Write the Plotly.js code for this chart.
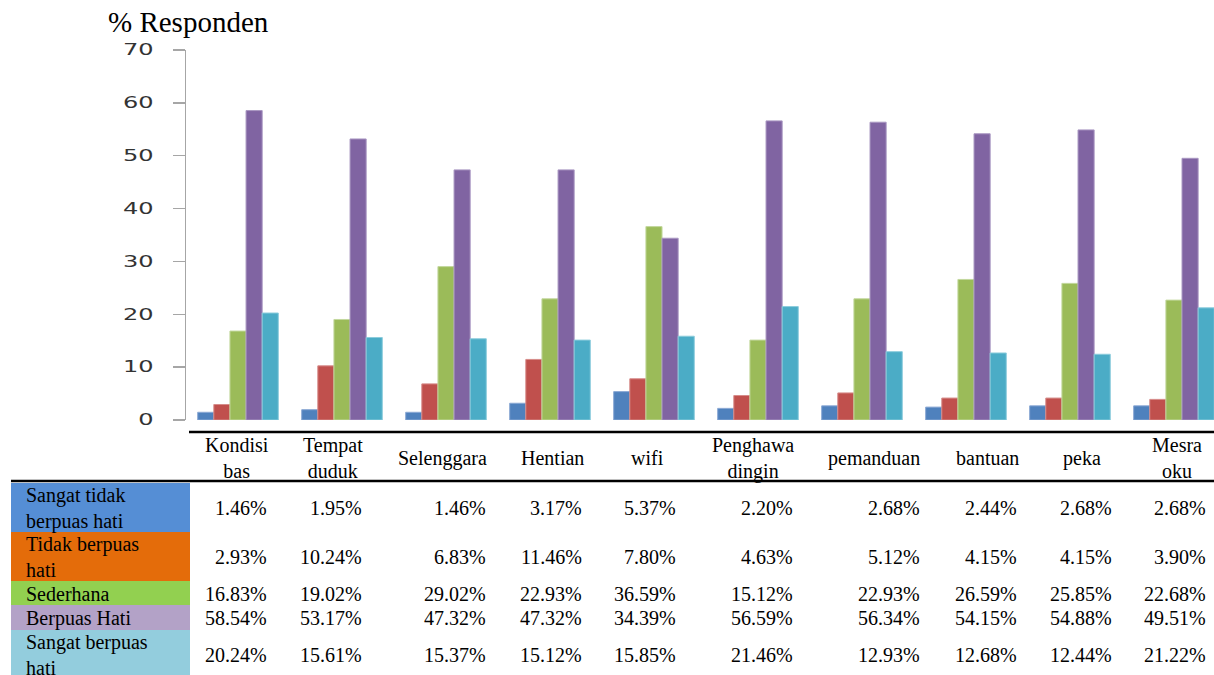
<!DOCTYPE html>
<html>
<head>
<meta charset="utf-8">
<script src="https://cdn.plot.ly/plotly-3.0.1.min.js"></script>
<style>
  html, body { margin: 0; padding: 0; background: #fff; overflow: hidden; }
  #chart { width: 1214px; height: 675px; }
</style>
</head>
<body>
<div id="chart"></div>
<script>
// Survey aspects (columns) and satisfaction levels (series)
const categories = ['Kondisi<br>bas', 'Tempat<br>duduk', 'Selenggara', 'Hentian', 'wifi',
                    'Penghawa<br>dingin', 'pemanduan', 'bantuan', 'peka', 'Mesra<br>oku'];
const levelLabels = ['Sangat tidak<br>berpuas hati', 'Tidak berpuas<br>hati', 'Sederhana',
                     'Berpuas Hati', 'Sangat berpuas<br>hati'];

// % of respondents per level
const sangatTidakBerpuas = [1.46, 1.95, 1.46, 3.17, 5.37, 2.20, 2.68, 2.44, 2.68, 2.68];
const tidakBerpuas       = [2.93, 10.24, 6.83, 11.46, 7.80, 4.63, 5.12, 4.15, 4.15, 3.90];
const sederhana          = [16.83, 19.02, 29.02, 22.93, 36.59, 15.12, 22.93, 26.59, 25.85, 22.68];
const berpuasHati        = [58.54, 53.17, 47.32, 47.32, 34.39, 56.59, 56.34, 54.15, 54.88, 49.51];
const sangatBerpuas      = [20.24, 15.61, 15.37, 15.12, 15.85, 21.46, 12.93, 12.68, 12.44, 21.22];

const yTicks = [0, 10, 20, 30, 40, 50, 60, 70];

// ---- styling ----
const barColors  = ['#4F81BD', '#C0504D', '#9BBB59', '#8064A2', '#4BACC6'];
const barEdges   = ['#8AA8D4', '#D68C8A', '#C3D89E', '#A997C2', '#8CCCDC'];
const cellFills  = ['#558ED5', '#E46C0A', '#92D050', '#B3A2C7', '#93CDDD'];

const series = [sangatTidakBerpuas, tidakBerpuas, sederhana, berpuasHati, sangatBerpuas];

// plot frame in pixels
const PLOT_L = 186, PLOT_W = 1028, PLOT_T = 50, PLOT_H = 370;
const fx = px => (px - PLOT_L) / PLOT_W;
const fy = py => (PLOT_T + PLOT_H - py) / PLOT_H;

// data table geometry (pixels)
const headerCenters = [237, 333, 442, 552, 647, 753, 874, 987, 1082, 1177];
const valueRights   = [269, 364, 488, 584, 678, 795, 922, 1019, 1114, 1208];
const rowTops       = [483, 532, 581, 605, 630];
const rowBottoms    = [532, 581, 605, 630, 680];
const rowCenters    = [508, 557, 594, 618, 655];
const HEADER_MID = 458;
const tableFont = { family: 'Liberation Serif, Times New Roman, serif', size: 20, color: '#000' };

const traces = series.map((vals, s) => ({
  type: 'bar',
  name: levelLabels[s].replace('<br>', ' '),
  x: categories,
  y: vals,
  marker: { color: barColors[s], line: { color: barEdges[s], width: 1 } },
  hoverinfo: 'x+y+name'
}));

const shapes = [
  { type: 'line', xref: 'paper', yref: 'paper', x0: fx(189), x1: fx(1214), y0: fy(432), y1: fy(432),
    line: { color: '#000', width: 2.5 } },
  { type: 'line', xref: 'paper', yref: 'paper', x0: fx(11), x1: fx(1214), y0: fy(481), y1: fy(481),
    line: { color: '#000', width: 2.5 } }
];
rowTops.forEach((top, r) => {
  shapes.push({ type: 'rect', xref: 'paper', yref: 'paper', layer: 'below',
    x0: fx(11), x1: fx(190), y0: fy(rowBottoms[r]), y1: fy(top),
    fillcolor: cellFills[r], line: { width: 0 } });
});

const annotations = [];
categories.forEach((c, i) => {
  annotations.push({ xref: 'paper', yref: 'paper', x: fx(headerCenters[i]), y: fy(HEADER_MID),
    xanchor: 'center', yanchor: 'middle', align: 'center', text: c, showarrow: false, font: tableFont });
});
levelLabels.forEach((lab, r) => {
  annotations.push({ xref: 'paper', yref: 'paper', x: fx(24), y: fy(rowCenters[r]),
    xanchor: 'left', yanchor: 'middle', align: 'left', text: lab, showarrow: false, font: tableFont });
  series[r].forEach((v, i) => {
    annotations.push({ xref: 'paper', yref: 'paper', x: fx(valueRights[i]), y: fy(rowCenters[r]),
      xanchor: 'right', yanchor: 'middle', align: 'right', text: v.toFixed(2) + '%',
      showarrow: false, font: tableFont });
  });
});

const layout = {
  width: 1214, height: 675,
  margin: { l: PLOT_L, r: 1214 - PLOT_L - PLOT_W, t: PLOT_T, b: 675 - PLOT_T - PLOT_H, pad: 0 },
  paper_bgcolor: '#fff', plot_bgcolor: '#fff',
  showlegend: false,
  barmode: 'group', bargap: 0.225, bargroupgap: 0,
  title: {
    text: '% Responden',
    font: { family: 'Liberation Serif, Times New Roman, serif', size: 29, color: '#000' },
    xref: 'container', yref: 'container', x: 108 / 1214, y: 1 - 22 / 675,
    xanchor: 'left', yanchor: 'middle'
  },
  xaxis: {
    type: 'category', range: [-0.5, 9.385], showticklabels: false, ticks: '',
    showline: false, showgrid: false, zeroline: false, fixedrange: true
  },
  yaxis: {
    range: [0, 70], tickvals: yTicks, ticktext: yTicks.map(String),
    ticks: 'outside', ticklen: 12, tickwidth: 1.5, tickcolor: '#A6A6A6',
    showline: true, linecolor: '#A6A6A6', linewidth: 1.5,
    showgrid: false, zeroline: false, automargin: false, ticklabelstandoff: 16,
    tickfont: { family: 'DejaVu Sans, Verdana, sans-serif', size: 15, color: '#333333' },
    fixedrange: true
  },
  shapes: shapes,
  annotations: annotations
};

Plotly.newPlot('chart', traces, layout, { displayModeBar: false, staticPlot: true }).then(gd => {
  // widen the axis numerals horizontally (keeps them as live text)
  gd.querySelectorAll('.ytick text').forEach(t => {
    const w = t.getComputedTextLength();
    t.setAttribute('textLength', (w * 1.6).toFixed(1));
    t.setAttribute('lengthAdjust', 'spacingAndGlyphs');
  });
});
</script>
</body>
</html>
